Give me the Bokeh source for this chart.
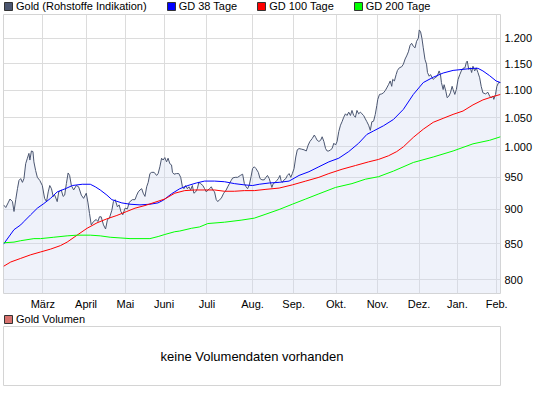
from bokeh.plotting import figure
from bokeh.models import FixedTicker, Legend, LegendItem, Label, Range1d
from bokeh.layouts import column
from bokeh.embed import file_html
from bokeh.resources import INLINE

FONT = "Liberation Sans"

# ---- data (x = trading-day index from start, Feb 2009 .. Feb 2010) ----
gold_day = [
    0, 1.2, 2.4, 3.4, 4.7, 5.5, 6.4, 7.3, 8.1, 9.0,
    9.9, 10.7, 11.6, 12.5, 13.3, 13.8, 14.6, 15.4, 15.9, 16.8,
    17.7, 19.0, 20.3, 21.5, 22.5, 23.4, 24.2, 25.1, 26.0, 26.8,
    28.1, 28.9, 30.2, 31.2, 32.0, 32.9, 33.8, 34.6, 35.5, 36.7,
    38.1, 39.3, 40.7, 41.9, 43.3, 44.2, 45.0, 45.9, 47.1, 48.5,
    49.4, 50.2, 51.1, 52.3, 53.4, 54.4, 55.4, 56.7, 57.5, 58.4,
    59.6, 60.5, 61.4, 62.4, 63.6, 64.8, 65.8, 67.4, 68.8, 69.7,
    70.5, 71.4, 72.3, 73.1, 74.0, 74.9, 75.7, 76.6, 77.5, 78.8,
    80.1, 80.9, 81.8, 82.7, 83.5, 84.4, 85.3, 86.1, 87.0, 87.9,
    88.4, 89.2, 90.5, 91.7, 92.7, 93.6, 94.4, 95.3, 96.2, 97.0,
    97.9, 98.8, 99.6, 100.5, 101.4, 102.2, 103.1, 104.3, 105.2, 106.1,
    106.9, 107.8, 108.7, 109.5, 110.4, 111.3, 112.1, 113.0, 113.9, 115.2,
    116.5, 117.3, 118.2, 119.1, 119.9, 121.2, 122.5, 123.9, 125.1, 126.0,
    126.9, 127.7, 128.6, 129.5, 130.3, 131.2, 132.1, 133.3, 134.2, 135.2,
    136.4, 137.3, 138.1, 139.0, 139.9, 140.4, 141.1, 142.1, 143.0, 143.8,
    144.6, 145.2, 145.9, 146.8, 147.7, 148.5, 149.4, 150.3, 151.1, 152.0,
    152.9, 153.7, 154.6, 156.0, 157.2, 158.4, 159.4, 160.3, 161.5, 162.6,
    163.3, 164.1, 165.0, 165.9, 166.7, 167.6, 168.5, 169.3, 170.2, 171.1,
    171.9, 172.8, 173.7, 174.5, 175.4, 176.3, 177.1, 178.0, 178.9, 179.7,
    180.6, 181.5, 182.3, 183.2, 184.1, 184.9, 185.8, 186.7, 187.5, 188.4,
    189.3, 190.1, 191.0, 191.9, 192.7, 193.6, 194.5, 195.3, 195.8, 196.7,
    197.9, 198.8, 199.7, 200.5, 201.4, 202.3, 203.1, 203.6, 204.5, 205.4,
    206.1, 207.1, 208.3, 209.2, 210.1, 210.9, 211.8, 212.7, 213.5, 214.4,
    215.3, 216.1, 217.0, 217.5, 218.2, 218.9, 219.6, 220.5, 221.3, 221.8,
    222.7, 223.4, 224.3, 224.8, 225.7, 226.9, 227.9, 228.6, 229.1, 230.0,
    230.5, 231.4, 232.1, 233.0, 233.8, 234.7, 235.2, 236.1, 236.9, 237.8,
    238.7, 239.5, 240.4, 241.4, 242.1, 242.6, 243.4, 244.2, 244.9, 245.6,
    246.5, 247.3, 248.2, 249.1, 249.9, 250.8, 252.2, 253.4, 254.3, 255.1,
    256.0, 256.5, 257.4, 258.1, 259.0, 260.0,
]
gold_price = [
    907, 903, 910, 916, 912, 897, 915, 932, 945, 948,
    942, 948, 972, 981, 989, 978, 993, 992, 975, 961,
    950, 945, 937, 917, 912, 927, 937, 932, 920, 922,
    912, 927, 930, 920, 922, 940, 957, 953, 937, 930,
    937, 935, 922, 917, 925, 910, 894, 877, 882, 885,
    882, 889, 889, 877, 871, 885, 887, 899, 912, 915,
    904, 907, 897, 892, 902, 901, 911, 915, 915, 922,
    927, 930, 932, 925, 920, 935, 942, 956, 958, 958,
    953, 956, 967, 981, 978, 982, 975, 981, 972, 970,
    958, 955, 956, 956, 950, 935, 932, 937, 932, 935,
    930, 937, 925, 927, 932, 942, 940, 937, 932, 927,
    930, 932, 935, 930, 927, 915, 912, 915, 917, 925,
    930, 935, 940, 945, 949, 950, 950, 953, 955, 940,
    935, 932, 938, 951, 964, 967, 964, 958, 948, 946,
    946, 950, 953, 948, 939, 934, 940, 942, 945, 948,
    953, 945, 942, 946, 948, 953, 956, 950, 956, 964,
    983, 995, 997, 996, 995, 993, 1003, 1009, 1014, 1020,
    1016, 1011, 1009, 1011, 1017, 1009, 997, 993, 993, 995,
    997, 1006, 1003, 1009, 1026, 1037, 1043, 1051, 1057, 1054,
    1060, 1054, 1063, 1054, 1051, 1063, 1057, 1060, 1057, 1054,
    1048, 1043, 1037, 1028, 1043, 1044, 1056, 1072, 1083, 1092,
    1093, 1095, 1099, 1104, 1110, 1117, 1107, 1120, 1117, 1129,
    1137, 1142, 1144, 1149, 1159, 1165, 1173, 1186, 1190, 1184,
    1181, 1194, 1200, 1217, 1213, 1200, 1181, 1158, 1149, 1133,
    1126, 1129, 1123, 1120, 1123, 1126, 1136, 1129, 1114, 1101,
    1110, 1098, 1086, 1089, 1095, 1107, 1101, 1092, 1101, 1120,
    1129, 1136, 1141, 1142, 1152, 1155, 1139, 1142, 1133, 1145,
    1136, 1142, 1133, 1123, 1107, 1095, 1093, 1096, 1089, 1086,
    1089, 1083, 1092, 1107, 1114, 1114,
]

gd38_day = [0, 5.5, 9, 10.7, 14.2, 17.7, 21.1, 24.6, 28.1, 32.4,
            36, 41.2, 45.4, 48, 50.6, 54.1, 56.7, 61.9, 66.2, 71.4,
            76.6, 80.8, 83.5, 87.9, 92.2, 96.5, 100.9, 105.2, 110.4, 115.6,
            120.8, 126, 130.3, 133.8, 139, 144.2, 149.4, 154.6, 159.8, 165,
            170.2, 175.4, 180.6, 185.8, 190.1, 193.6, 198.8, 204, 209.2, 214.4,
            219.6, 224.8, 230, 235.2, 240.4, 245.6, 248.2, 250.8, 254.3, 257.7, 260]
gd38 = [849, 870, 877, 882, 892, 902, 909, 917, 927, 932,
        937, 939, 939, 935, 930, 922, 915, 910, 908, 907,
        908, 910, 914, 924, 932, 937, 941, 944, 944, 943,
        940, 938, 937, 939, 941, 942, 944, 953, 959, 967,
        975, 981, 992, 1006, 1021, 1027, 1036, 1047, 1065, 1092,
        1114, 1124, 1132, 1137, 1139, 1141, 1141, 1136, 1127, 1117, 1114]

gd100_day = [0, 3.8, 9, 14.2, 19.4, 24.6, 29.8, 33.3, 38.5, 43.7,
             48.9, 54.1, 59.3, 64.5, 68.8, 74, 79.2, 84.4, 89.6, 94.8,
             100, 105.2, 110.4, 115.6, 120.8, 126, 131.2, 137.3, 144.2, 151.1,
             158.1, 165, 170.2, 177.1, 184.1, 191, 196.2, 201.4, 205.7, 209.2,
             214.4, 219.6, 224.8, 230, 235.2, 240.4, 245.6, 250.8, 256, 260]
gd100 = [818, 824, 829, 834, 838, 842, 847, 852, 862, 872,
         880, 886, 891, 897, 902, 906, 911, 916, 925, 929,
         930, 930, 930, 928, 928, 929, 929, 931, 933, 938,
         944, 950, 956, 963, 969, 975, 979, 985, 992, 1000,
         1016, 1030, 1042, 1049, 1056, 1062, 1073, 1082, 1088, 1092]

gd200_day = [0, 5.5, 9, 15.9, 19.4, 26.3, 33.3, 38.5, 45.4, 50.6,
             55.8, 61, 66.2, 76.6, 80.9, 84.4, 89.6, 92.2, 98.3, 102.6,
             106.9, 115.6, 124.3, 131.2, 137.3, 144.2, 151.1, 158.1, 165, 173.7,
             182.3, 189.3, 196.2, 204, 214.4, 224.8, 235.2, 245.6, 254.3, 260]
gd200 = [851, 852, 854, 857, 857, 859, 861, 862, 862, 861,
         859, 858, 857, 857, 860, 863, 867, 868, 872, 874,
         879, 881, 884, 887, 893, 900, 908, 916, 924, 934,
         940, 947, 951, 960, 974, 983, 993, 1005, 1011, 1017]

month_pos = [20.6, 43.2, 63.8, 84.0, 106.4, 130.3, 151.8, 174.0, 195.7, 217.4, 237.4, 258.0]
month_labels = ["März", "April", "Mai", "Juni", "Juli", "Aug.", "Sep.", "Okt.",
                "Nov.", "Dez.", "Jan.", "Feb."]
y_ticks = [800, 850, 900, 950, 1000, 1050, 1100, 1150, 1200]
y_labels = ["800", "850", "900", "950", "1.000", "1.050", "1.100", "1.150", "1.200"]

series_names = ["Gold (Rohstoffe Indikation)", "GD 38 Tage", "GD 100 Tage", "GD 200 Tage"]
series_colors = ["#4b5670", "#0000ff", "#ff0000", "#00ff00"]
volume_name = "Gold Volumen"
volume_color = "#d8726e"
volume_note = "keine Volumendaten vorhanden"

GRID = "#dcdcdc"
BORDER = "#d4d4d4"
W = 535


def legend_strip(names, colors, height):
    f = figure(width=W, height=height, x_range=Range1d(0, 1), y_range=Range1d(0, 1),
               x_axis_type=None, y_axis_type=None, output_backend="svg",
               toolbar_location=None, min_border_left=2, min_border_right=0,
               min_border_top=0, min_border_bottom=0)
    f.outline_line_color = None
    f.background_fill_color = "white"
    f.border_fill_color = "white"
    its = []
    for name, col in zip(names, colors):
        r = f.quad(left=[-5], right=[-4], bottom=[0], top=[1],
                   fill_color=col, line_color="#333333", line_width=1)
        its.append(LegendItem(label=name, renderers=[r]))
    lg = Legend(items=its, orientation="horizontal", location="top_left",
                spacing=19, padding=0, margin=0, glyph_width=10, glyph_height=10,
                label_standoff=3, label_height=12, label_text_font=FONT,
                label_text_font_size="11px", label_text_color="#000000",
                border_line_color=None, background_fill_alpha=0)
    f.add_layout(lg)
    return f


top_legend = legend_strip(series_names, series_colors, 14)

# ---- main chart ----
p = figure(width=W, height=279 + 20,
           x_range=Range1d(0, 260), y_range=Range1d(781.5, 1249),
           y_axis_type="log", y_axis_location="right",
           output_backend="svg", toolbar_location=None,
           min_border_left=3, min_border_right=32, min_border_top=0,
           min_border_bottom=20)
p.background_fill_color = "white"
p.border_fill_color = "white"
p.outline_line_color = BORDER

p.varea(x=gold_day, y1=[p.y_range.start] * len(gold_day), y2=gold_price,
        fill_color="#d1daf1", fill_alpha=0.35)
p.line(gold_day, gold_price, line_color=series_colors[0], line_width=1)
p.line(gd38_day, gd38, line_color=series_colors[1], line_width=1)
p.line(gd100_day, gd100, line_color=series_colors[2], line_width=1)
p.line(gd200_day, gd200, line_color=series_colors[3], line_width=1)

p.xaxis.ticker = FixedTicker(ticks=month_pos)
p.xgrid.ticker = FixedTicker(ticks=month_pos)
p.xaxis.major_label_overrides = dict(zip(month_pos, month_labels))
p.yaxis.ticker = FixedTicker(ticks=y_ticks)
p.ygrid.ticker = FixedTicker(ticks=y_ticks)
p.yaxis.major_label_overrides = dict(zip(y_ticks, y_labels))

for ax in (p.xaxis, p.yaxis):
    ax.axis_line_color = None
    ax.major_tick_line_color = None
    ax.minor_tick_line_color = None
    ax.major_tick_out = 0
    ax.major_tick_in = 0
    ax.major_label_text_font = FONT
    ax.major_label_text_font_size = "11px"
    ax.major_label_text_color = "#000000"
p.xaxis.major_label_standoff = 4
p.yaxis.major_label_standoff = 4
p.grid.grid_line_color = GRID
p.grid.grid_line_width = 1

vol_legend = legend_strip([volume_name], [volume_color], 13)

# ---- volume panel ----
p2 = figure(width=W, height=60,
            x_range=Range1d(0, 1), y_range=Range1d(0, 1),
            x_axis_type=None, y_axis_type=None,
            output_backend="svg", toolbar_location=None,
            min_border_left=3, min_border_right=32, min_border_top=0,
            min_border_bottom=0)
p2.outline_line_color = BORDER
p2.background_fill_color = "white"
p2.border_fill_color = "white"
p2.add_layout(Label(x=0.5, y=0.5, text=volume_note,
                    text_align="center", text_baseline="middle",
                    text_font=FONT, text_font_size="13px", text_color="#000000"))

layout = column(top_legend, p, vol_legend, p2, spacing=0)
open("out.html", "w").write(file_html(layout, INLINE))
